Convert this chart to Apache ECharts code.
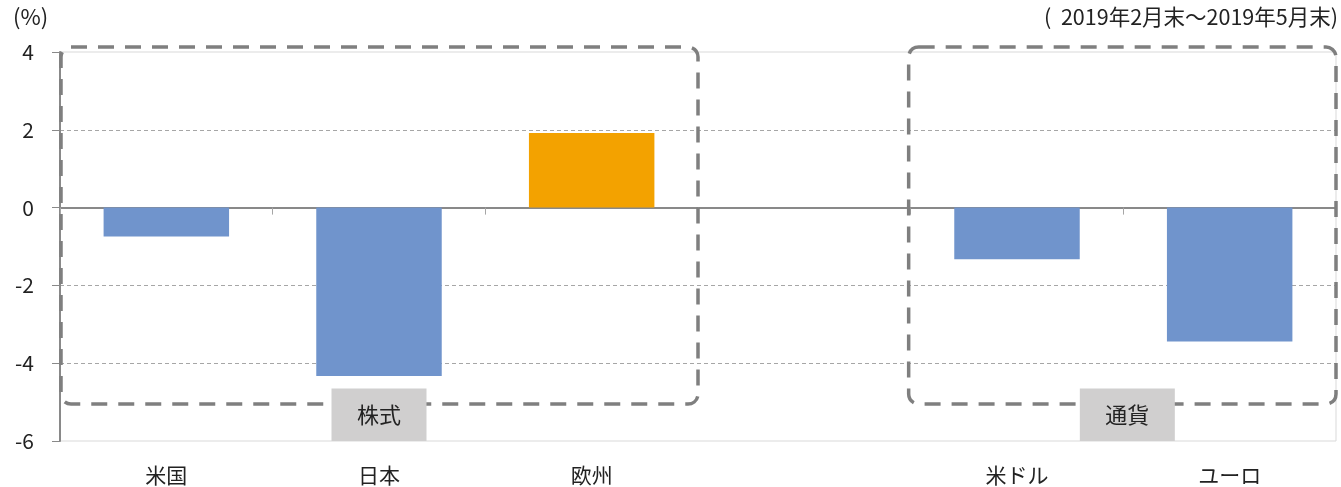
<!DOCTYPE html>
<html><head><meta charset="utf-8">
<script src="https://cdn.jsdelivr.net/npm/echarts@6/dist/echarts.min.js"></script>
<style>html,body{margin:0;padding:0;background:#fff}#c{width:1341px;height:487px}</style>
</head><body><div id="c"></div>
<script>
var categories = ['米国', '日本', '欧州', '', '米ドル', 'ユーロ'];
var values = [-0.74, -4.33, 1.92, null, -1.33, -3.44];
var barColors = ['#7094CC', '#7094CC', '#F3A200', '#7094CC', '#7094CC', '#7094CC'];
var groupLabels = ['株式', '通貨'];
var yUnit = '(%)';
var periodText = '(  2019年2月末～2019年5月末)';

var FONT = '"Noto Sans CJK JP", "Noto Sans", sans-serif';
var chart = echarts.init(document.getElementById('c'));
var option = {
  animation: false,
  grid: {left: 60, right: 5, top: 52, bottom: 46, show: true, borderColor: '#d9d9d9', borderWidth: 1, containLabel: false},
  xAxis: [{
    type: 'category', data: categories, position: 'bottom',
    axisLine: {show: false, onZero: false}, axisTick: {show: false},
    axisLabel: {fontFamily: FONT, fontSize: 21, color: '#222', margin: 24}
  }, {
    type: 'category', data: categories, position: 'bottom',
    axisLine: {show: true, onZero: true, lineStyle: {color: '#898989', width: 2}},
    axisTick: {show: true, length: 7, lineStyle: {color: '#a6a6a6', width: 1}},
    axisLabel: {show: false}
  }],
  yAxis: {
    type: 'value', min: -6, max: 4, interval: 2,
    axisLine: {show: true, lineStyle: {color: '#898989', width: 2}},
    axisTick: {show: true, length: 8, lineStyle: {color: '#898989', width: 1}},
    axisLabel: {fontFamily: FONT, fontSize: 21, color: '#222', margin: 26},
    splitLine: {show: true, showMinLine: false, showMaxLine: false, lineStyle: {color: '#a6a6a6', type: [4, 3], width: 1}}
  },
  series: [{
    type: 'bar', xAxisIndex: 0, barWidth: '59%',
    data: values.map(function (v, i) { return {value: v, itemStyle: {color: barColors[i]}}; })
  }]
};
chart.setOption(option);

function px(cat, val) { return chart.convertToPixel({xAxisIndex: 0, yAxisIndex: 0}, [cat, val]); }
var band = px(1, 0)[0] - px(0, 0)[0];
var yTop = px(0, 4)[1] - 5;
var yBot = px(0, -5.05)[1];
var yMin = px(0, -6)[1];
var yLabTop = px(0, -4.65)[1];
var gLeft = px(0, 0)[0] - band / 2;
var gRight = px(5, 0)[0] + band / 2;
var b1R = px(2, 0)[0] + band / 2;
var b2L = px(4, 0)[0] - band / 2;
var boxStyle = {fill: 'none', stroke: '#7f7f7f', lineWidth: 3.5, lineDash: [16, 11]};
function labelBox(cx, text) {
  var w = 95;
  return [{
    type: 'rect', z: 101, shape: {x: cx - w / 2, y: yLabTop, width: w, height: yMin - yLabTop},
    style: {fill: '#d0cfcf'}
  }, {
    type: 'text', z: 102, x: cx, y: (yLabTop + yMin) / 2,
    style: {text: text, fontFamily: FONT, fontSize: 22, fill: '#222', align: 'center', verticalAlign: 'middle'}
  }];
}
var c1 = px(1, 0)[0];
var c2 = (px(4, 0)[0] + px(5, 0)[0]) / 2 + 4;
chart.setOption({
  graphic: [
    {type: 'rect', z: 100, shape: {x: gLeft + 1, y: yTop, width: b1R - gLeft - 1, height: yBot - yTop, r: 10}, style: boxStyle},
    {type: 'rect', z: 100, shape: {x: b2L - 2, y: yTop, width: gRight - b2L + 2, height: yBot - yTop, r: 10}, style: boxStyle},
    {type: 'text', left: 13, top: 6, style: {text: yUnit, fontFamily: FONT, fontSize: 22, fill: '#222'}},
    {type: 'text', right: 3, top: 6, style: {text: periodText, fontFamily: FONT, fontSize: 21.5, fill: '#222'}}
  ].concat(labelBox(c1, groupLabels[0])).concat(labelBox(c2, groupLabels[1]))
});
</script></body></html>
